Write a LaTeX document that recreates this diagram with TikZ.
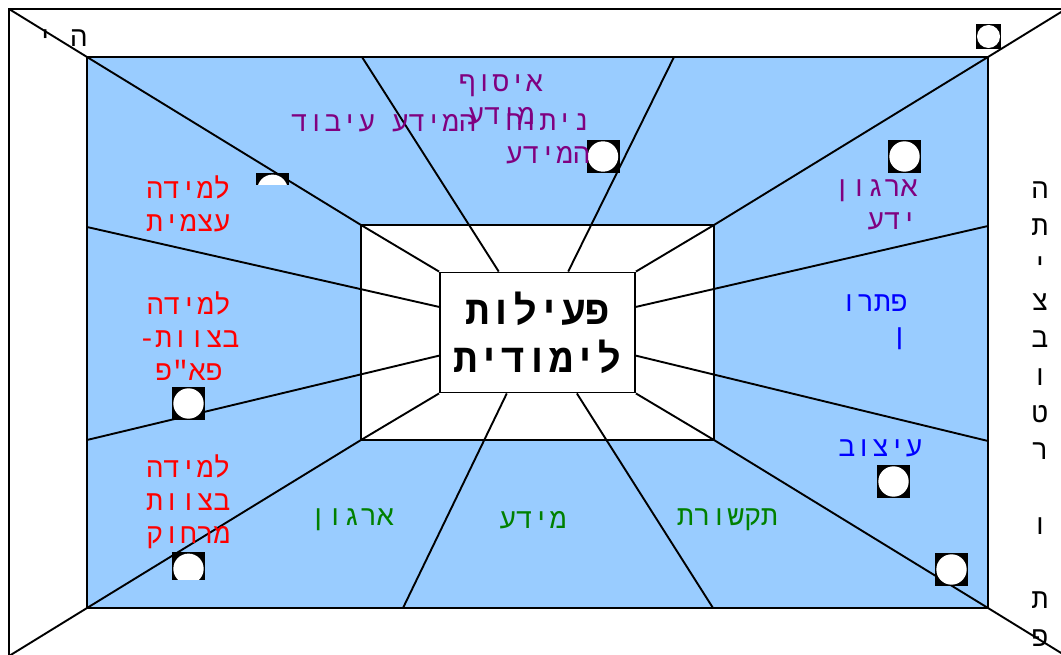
\documentclass[tikz,border=0pt]{standalone}
\usepackage{fontspec}
\usepackage{tikz}
\usetikzlibrary{positioning, calc}
\newfontfamily\hebmono[Script=Hebrew]{Liberation Mono}
\TeXXeTstate=1
\newcommand{\heb}[1]{\beginR #1\endR}
\definecolor{wallblue}{RGB}{153,204,255}
\definecolor{myred}{RGB}{255,0,0}
\definecolor{mypurple}{RGB}{128,0,128}
\definecolor{mygreen}{RGB}{0,128,0}
\definecolor{myblue}{RGB}{0,0,255}
\tikzset{
  frame/.style={draw=black, line width=1.9pt},
  ray/.style={black, line width=1.9pt},
  hebtext/.style={font=\hebmono\fontsize{28}{33}\selectfont, inner sep=0pt, align=center},
  redtag/.style={hebtext, text=myred},
  purptag/.style={hebtext, text=mypurple},
  greentag/.style={hebtext, text=mygreen},
  bluetag/.style={hebtext, text=myblue},
  blacktag/.style={hebtext, text=black},
  icon/.style={fill=black, minimum size=#1, inner sep=0pt,
    path picture={\fill[white] (path picture bounding box.center) circle (0.46*#1);}},
  core/.style={draw=black, fill=white, line width=1.9pt,
    minimum width=195pt, minimum height=120pt, inner sep=0pt, align=center,
    font=\hebmono\bfseries\fontsize{40}{48}\selectfont}
}

\begin{document}
\begin{tikzpicture}[x=1pt, y=-1pt]
  \useasboundingbox (0,0) rectangle (1061,655);

  % room corners
  \coordinate (outNW) at (9,9);
  \coordinate (outNE) at (1066,9);
  \coordinate (outSW) at (9,656);
  \coordinate (outSE) at (1066,656);
  \coordinate (wallNW) at (87,57);
  \coordinate (wallNE) at (988,57);
  \coordinate (wallSW) at (87,608);
  \coordinate (wallSE) at (988,608);
  \coordinate (midNW) at (361,225);
  \coordinate (midNE) at (714,225);
  \coordinate (midSW) at (361,440);
  \coordinate (midSE) at (714,440);

  \draw[frame] (outNW) rectangle (outSE);
  \draw[frame, fill=wallblue] (wallNW) rectangle (wallSE);
  \draw[frame, fill=white] (midNW) rectangle (midSE);
  \node[core] (core) at (537.5,332.5) {\heb{פעילות}\\\heb{לימודית}};

  % corner edges
  \draw[ray] (outNW) -- (wallNW) -- (midNW) -- (core.north west);
  \draw[ray] (outNE) -- (wallNE) -- (midNE) -- (core.north east);
  \draw[ray] (outSW) -- (wallSW) -- (midSW) -- (core.south west);
  \draw[ray] (outSE) -- (wallSE) -- (midSE) -- (core.south east);

  % spokes
  \coordinate (topA) at (362,57);
  \coordinate (topB) at (674,57);
  \coordinate (botA) at (403,608);
  \coordinate (botB) at (713,608);
  \coordinate (leftA) at (87,227);
  \coordinate (leftB) at (87,440);
  \coordinate (rightA) at (988,226);
  \coordinate (rightB) at (988,441);
  \draw[ray] (topA) -- ($(core.north west)!0.303!(core.north east)$);
  \draw[ray] (topB) -- ($(core.north west)!0.656!(core.north east)$);
  \draw[ray] (botA) -- ($(core.south west)!0.344!(core.south east)$);
  \draw[ray] (botB) -- ($(core.south west)!0.70!(core.south east)$);
  \draw[ray] (leftA) -- ($(core.north west)!0.29!(core.south west)$);
  \draw[ray] (leftB) -- ($(core.north west)!0.69!(core.south west)$);
  \draw[ray] (rightA) -- ($(core.north east)!0.29!(core.south east)$);
  \draw[ray] (rightB) -- ($(core.north east)!0.69!(core.south east)$);

  % icons
  \node[icon=25pt] (iconA) at (988.5,36.5) {};
  \node[icon=33pt] (iconB) at (904.5,156.5) {};
  \node[icon=33pt] (iconC) at (603,156.5) {};
  \node[icon=33pt] (iconD) at (188.5,403.5) {};
  \node[icon=33pt] (iconE) at (893.5,481.5) {};
  \node[icon=33pt] (iconF) at (951.5,569.5) {};
  \begin{scope}
    \clip (250,170) rectangle (295,185);
    \node[icon=33pt] (iconG) at (272.5,189.8) {};
  \end{scope}
  \begin{scope}
    \clip (165,545) rectangle (210,579);
    \node[icon=33pt] (iconH) at (188.5,568.8) {};
  \end{scope}

  % labels
  \node[redtag] (selflearn) at (188.5,204) {\heb{למידה}\\\heb{עצמית}};
  \node[redtag] (teamlocal) at (189,336) {\heb{למידה}\\\heb{בצוות\mbox{-}}\\\heb{פא"פ}};
  \node[redtag] (teamremote) at (188.5,502) {\heb{למידה}\\\heb{בצוות}\\\heb{מרחוק}};
  \node[purptag] (collect) at (501,100) {\heb{איסוף}\\\heb{מידע}};
  \node[purptag] (process) at (383.5,123) {\heb{המידע עיבוד}};
  \node[purptag] (analyze) at (548,139) {\heb{ניתוח}\\\heb{המידע}};
  \node[purptag, align=right, anchor=east] (knoworg) at (918,205) {\heb{ארגון}\\\heb{ידע}};
  \node[bluetag, align=right, anchor=east] (solution) at (908,322) {\heb{פתרו}\\\heb{ן}};
  \node[bluetag] (design) at (880.5,448) {\heb{עיצוב}};
  \node[greentag] (organize) at (352,520) {\heb{ארגון}};
  \node[greentag] (info) at (533,520) {\heb{מידע}};
  \node[greentag] (comm) at (727.5,520) {\heb{תקשורת}};
  \node[blacktag] (cornerword) at (62,38) {\heb{ה י}};
  \node[blacktag, font=\hebmono\fontsize{28}{37.3}\selectfont] (sideword) at (1040,414)
    {ה\\ת\\י\\צ\\ב\\ו\\ט\\ר\\[37.3pt]ו\\[37.3pt]ת\\פ};
\end{tikzpicture}
\end{document}
